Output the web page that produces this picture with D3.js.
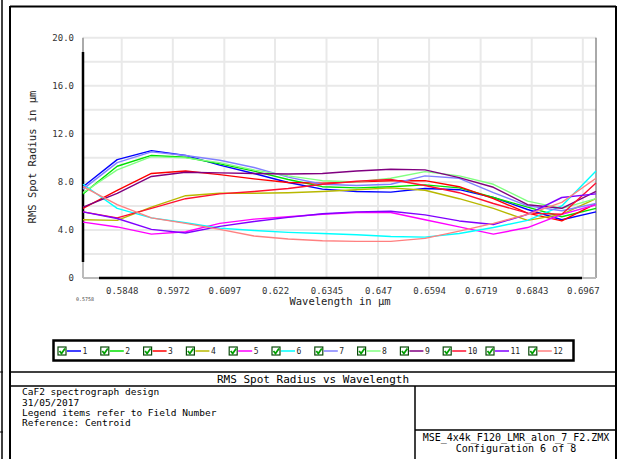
<!DOCTYPE html>
<html>
<head>
<meta charset="utf-8">
<script src="https://cdn.jsdelivr.net/npm/d3@7"></script>
<style>
    body { margin: 0; background: white; }
    text { font-family: "DejaVu Sans Mono", "Liberation Mono", monospace; }
</style>
</head>
<body>
<script>
// wavelength samples (µm)
var wavelengths = [0.5754, 0.5837, 0.5920, 0.6003, 0.6086, 0.6169, 0.6252, 0.6335,
                   0.6418, 0.6501, 0.6584, 0.6667, 0.6750, 0.6833, 0.6916, 0.6999];

var fieldNames = ["1", "2", "3", "4", "5", "6", "7", "8", "9", "10", "11", "12"];
var fieldColors = ["#0000ff", "#00e000", "#ff0000", "#b8b800", "#ff00ff", "#00ffff",
                   "#8080ff", "#80ff80", "#800080", "#ff1030", "#8000ff", "#ff8080"];

// RMS spot radius in µm per field
var field1  = [7.6, 9.85, 10.6, 10.2, 9.4, 8.7, 7.95, 7.4, 7.2, 7.15, 7.45, 7.35, 6.7, 5.7, 4.85, 5.5];
var field2  = [7.0, 9.3, 10.2, 10.05, 9.5, 8.9, 8.2, 7.6, 7.5, 7.6, 7.75, 7.5, 6.7, 5.9, 5.1, 5.8];
var field3  = [5.8, 7.3, 8.7, 8.9, 8.6, 8.25, 7.95, 7.9, 8.0, 8.1, 8.1, 7.6, 6.6, 5.4, 4.75, 6.2];
var field4  = [4.85, 4.8, 5.9, 6.85, 7.05, 7.05, 7.1, 7.2, 7.35, 7.5, 7.3, 6.6, 5.8, 4.8, 5.3, 6.6];
var field5  = [4.65, 4.25, 3.65, 3.85, 4.55, 4.9, 5.1, 5.3, 5.45, 5.45, 4.85, 4.25, 3.65, 4.2, 5.3, 6.1];
var field6  = [7.8, 5.8, 5.0, 4.6, 4.15, 3.95, 3.8, 3.7, 3.6, 3.45, 3.4, 3.7, 4.2, 4.8, 6.0, 8.9];
var field7  = [7.4, 9.6, 10.5, 10.2, 9.8, 9.2, 8.4, 7.8, 7.7, 7.8, 8.5, 8.3, 7.1, 6.0, 5.6, 6.2];
var field8  = [7.1, 9.0, 10.1, 10.0, 9.6, 9.0, 8.5, 8.1, 8.0, 8.3, 8.85, 8.5, 7.8, 6.4, 5.8, 6.6];
var field9  = [5.9, 7.05, 8.45, 8.8, 8.75, 8.7, 8.65, 8.7, 8.9, 9.05, 9.0, 8.35, 7.55, 6.1, 5.8, 7.2];
var field10 = [5.5, 5.0, 5.8, 6.6, 7.0, 7.2, 7.45, 7.8, 8.05, 8.2, 7.7, 7.1, 6.2, 5.4, 5.3, 7.9];
var field11 = [5.5, 4.95, 4.05, 3.75, 4.3, 4.7, 5.05, 5.35, 5.5, 5.55, 5.25, 4.75, 4.45, 5.3, 6.7, 7.0];
var field12 = [7.6, 6.1, 5.0, 4.55, 4.05, 3.5, 3.25, 3.1, 3.05, 3.05, 3.3, 3.9, 4.55, 5.3, 6.3, 8.3];

var allFields = [field1, field2, field3, field4, field5, field6,
                 field7, field8, field9, field10, field11, field12];

var xTicks = [0.5848, 0.5972, 0.6097, 0.622, 0.6345, 0.647, 0.6594, 0.6719, 0.6843, 0.6967];
var yTicks = [0, 4, 8, 12, 16, 20];
var yGrid  = [0, 2, 4, 6, 8, 10, 12, 14, 16, 18, 20];

var svg = d3.select("body")
    .append("svg")
    .attr("width", 618)
    .attr("height", 459);

// -------------------------------------------------------------------------- //
//                                FRAMES                                      //
// -------------------------------------------------------------------------- //

function hline (x1, x2, y, w, col)
{
    svg.append("line")
        .attr("x1", x1).attr("x2", x2)
        .attr("y1", y).attr("y2", y)
        .attr("stroke", col || "black")
        .attr("stroke-width", w);
}

function vline (x, y1, y2, w, col)
{
    svg.append("line")
        .attr("x1", x).attr("x2", x)
        .attr("y1", y1).attr("y2", y2)
        .attr("stroke", col || "black")
        .attr("stroke-width", w);
}

vline(2, 0, 459, 1.5);
hline(0, 3, 372, 1);
hline(0, 3, 432, 1);

vline(10, 6, 459, 2);
vline(616, 6, 459, 2);
hline(10, 616, 6.5, 2);
hline(10, 616, 372, 1.5);
hline(10, 616, 386, 1.5);
vline(415, 386, 459, 1.5);
hline(415, 616, 430, 1.5);

// -------------------------------------------------------------------------- //
//                                 PLOT                                       //
// -------------------------------------------------------------------------- //

var x = d3.scaleLinear().domain([0.5754, 0.6999]).range([83, 596]);
var y = d3.scaleLinear().domain([0, 20]).range([278, 37.7]);

// grid
svg.append("g").selectAll("line")
    .data(yGrid).enter().append("line")
    .attr("x1", 83).attr("x2", 596)
    .attr("y1", function(d) { return y(d); })
    .attr("y2", function(d) { return y(d); })
    .attr("stroke", "#e9e9e9")
    .attr("stroke-width", 2);

svg.append("g").selectAll("line")
    .data(xTicks).enter().append("line")
    .attr("x1", function(d) { return x(d); })
    .attr("x2", function(d) { return x(d); })
    .attr("y1", 37.7).attr("y2", 278)
    .attr("stroke", "#e9e9e9")
    .attr("stroke-width", 2);

// axes
var xAxis = svg.append("g")
    .attr("transform", "translate(0,280)")
    .call(d3.axisBottom(x).tickValues(xTicks).tickSize(0).tickPadding(8)
        .tickFormat(function(d) { return String(d); }));
xAxis.select(".domain").remove();
xAxis.selectAll("text")
    .style("font-family", "DejaVu Sans Mono")
    .style("font-size", "9px")
    .attr("fill", "#333");

var yAxis = svg.append("g")
    .attr("transform", "translate(79,0)")
    .call(d3.axisLeft(y).tickValues(yTicks).tickSize(0).tickPadding(5)
        .tickFormat(function(d) { return d == 0 ? "0" : d.toFixed(1); }));
yAxis.select(".domain").remove();
yAxis.selectAll("text")
    .style("font-family", "DejaVu Sans Mono")
    .style("font-size", "9px")
    .attr("fill", "#333");

svg.append("text")
    .attr("x", 85).attr("y", 301)
    .attr("text-anchor", "middle")
    .style("font-size", "5px")
    .attr("fill", "#444")
    .text("0.5758");

// axis lines
vline(596, 37.7, 278, 1, "#555");
vline(83, 37.7, 52, 2, "#aaa");
vline(83, 52, 262, 2.5, "black");
vline(83, 262, 278, 2, "#bbb");
hline(83, 99, 278, 2, "#bbb");
hline(99, 582, 278, 2.5, "black");
hline(582, 596, 278, 2, "#bbb");

// lines
var lineFunction = d3.line()
    .x(function(d, i) { return x(wavelengths[i]); })
    .y(function(d) { return y(d); });

svg.append("g").selectAll("path")
    .data(allFields).enter().append("path")
    .attr("d", function(d) { return lineFunction(d); })
    .attr("fill", "none")
    .attr("stroke", function(d, i) { return fieldColors[i]; })
    .attr("stroke-width", 1.4)
    .attr("stroke-linejoin", "round");

// axis titles
svg.append("text")
    .attr("x", 340).attr("y", 305)
    .attr("text-anchor", "middle")
    .style("font-size", "10.5px")
    .attr("fill", "#222")
    .text("Wavelength in µm");

svg.append("text")
    .attr("transform", "translate(36,157) rotate(-90)")
    .attr("text-anchor", "middle")
    .style("font-size", "10.5px")
    .attr("fill", "#222")
    .text("RMS Spot Radius in µm");

// -------------------------------------------------------------------------- //
//                                LEGEND                                      //
// -------------------------------------------------------------------------- //

svg.append("rect")
    .attr("x", 53.5).attr("y", 340.5)
    .attr("width", 520).attr("height", 20)
    .attr("fill", "white")
    .attr("stroke", "black")
    .attr("stroke-width", 2.5);

var legend = svg.append("g").selectAll("g")
    .data(fieldNames).enter().append("g")
    .attr("transform", function(d, i) { return "translate(" + (58 + i * 42.8) + ",351)"; });

legend.append("rect")
    .attr("x", 0).attr("y", -4)
    .attr("width", 8).attr("height", 8)
    .attr("fill", "white")
    .attr("stroke", "#0a4a0a")
    .attr("stroke-width", 1.2);

legend.append("path")
    .attr("d", "M1.5,0 L3.5,2.5 L7,-2.5")
    .attr("fill", "none")
    .attr("stroke", "#00a000")
    .attr("stroke-width", 1.8);

legend.append("line")
    .attr("x1", 9).attr("x2", 23)
    .attr("y1", 0).attr("y2", 0)
    .attr("stroke", function(d, i) { return fieldColors[i]; })
    .attr("stroke-width", 1.5);

legend.append("text")
    .attr("x", 24.5).attr("y", 3)
    .style("font-size", "8px")
    .attr("fill", "#222")
    .text(function(d) { return d; });

// -------------------------------------------------------------------------- //
//                                 TEXTS                                      //
// -------------------------------------------------------------------------- //

svg.append("text")
    .attr("x", 313).attr("y", 383)
    .attr("text-anchor", "middle")
    .style("font-size", "11px")
    .attr("fill", "black")
    .text("RMS Spot Radius vs Wavelength");

var infoLines = ["CaF2 spectrograph design", "31/05/2017",
                 "Legend items refer to Field Number", "Reference: Centroid"];
var infoY = [395, 405.5, 415.5, 425.5];

svg.append("g").selectAll("text")
    .data(infoLines).enter().append("text")
    .attr("x", 22)
    .attr("y", function(d, i) { return infoY[i]; })
    .style("font-size", "9.5px")
    .attr("fill", "black")
    .text(function(d) { return d; });

svg.append("text")
    .attr("x", 516).attr("y", 441)
    .attr("text-anchor", "middle")
    .style("font-size", "10px")
    .attr("fill", "black")
    .text("MSE_4x4k_F120_LMR_alon_7_F2.ZMX");

svg.append("text")
    .attr("x", 516).attr("y", 452)
    .attr("text-anchor", "middle")
    .style("font-size", "10px")
    .attr("fill", "black")
    .text("Configuration 6 of 8");
</script>
</body>
</html>
